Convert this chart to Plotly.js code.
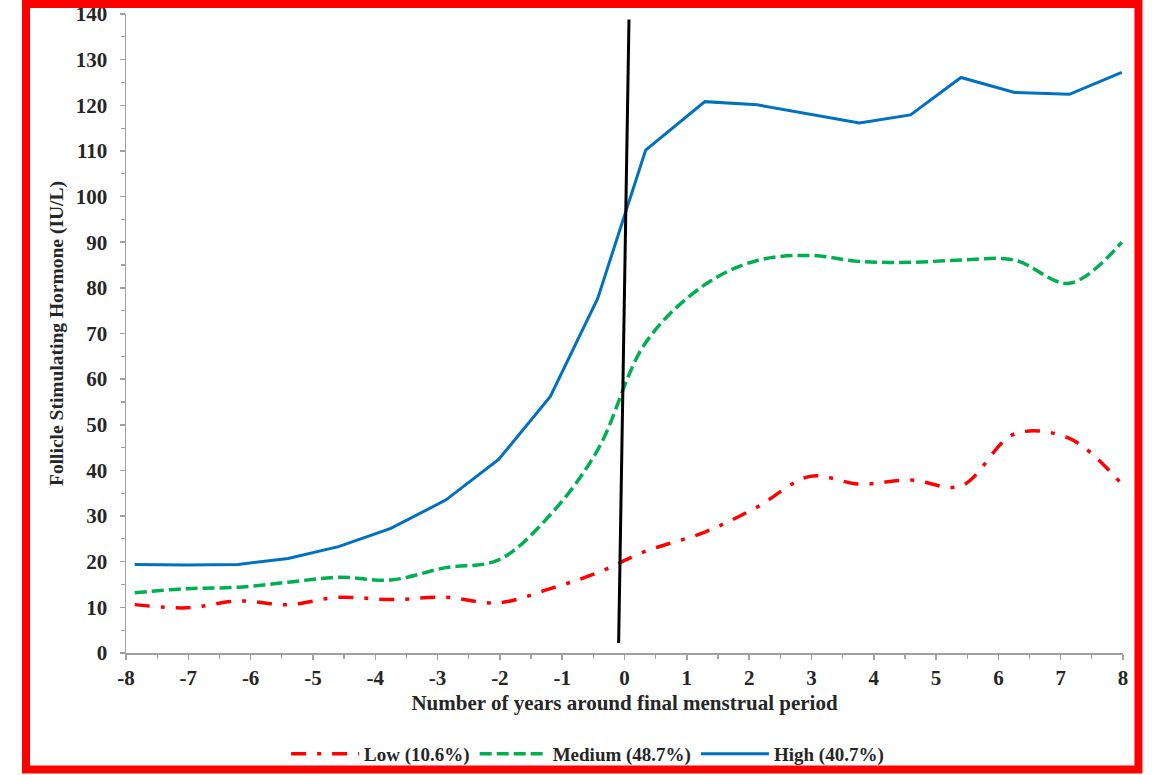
<!DOCTYPE html>
<html>
<head>
<meta charset="utf-8">
<script src="https://cdn.plot.ly/plotly-3.0.1.min.js"></script>
<style>
  html, body { margin: 0; padding: 0; background: #fff; }
  #chart { width: 1153px; height: 775px; }
</style>
</head>
<body>
<div id="chart"></div>
<script>
// Years around final menstrual period (x positions of the plotted points)
const years = [-7.86, -7.02, -6.2, -5.4, -4.59, -3.75, -2.87, -2.02, -1.19, -0.43, 0.34, 1.29, 2.13, 2.98, 3.77, 4.59, 5.40, 6.26, 7.14, 7.98];

// FSH (IU/L) by trajectory group
const lowFSH    = [10.6, 9.9, 11.4, 10.6, 12.2, 11.7, 12.2, 11.0, 14.1, 17.6, 22.3, 26.5, 32.0, 38.7, 37.0, 37.9, 36.6, 48.0, 47.0, 37.0];
const mediumFSH = [13.2, 14.1, 14.4, 15.5, 16.6, 16.0, 18.7, 20.4, 30.3, 44.5, 68.0, 80.7, 86.0, 87.1, 85.8, 85.6, 86.1, 86.1, 81.0, 90.0];
const highFSH   = [19.4, 19.3, 19.4, 20.7, 23.3, 27.3, 33.5, 42.4, 56.2, 77.7, 110.2, 120.8, 120.1, 118.0, 116.1, 117.9, 126.1, 122.8, 122.4, 127.2];

// Marker line at the final menstrual period
const fmpLineX = [-0.094, 0.072];
const fmpLineY = [2.2, 138.8];

// Legend labels
const seriesNames = ['Low (10.6%)', 'Medium (48.7%)', 'High (40.7%)'];

// Axis ticks
const xTickVals = [-8, -7, -6, -5, -4, -3, -2, -1, 0, 1, 2, 3, 4, 5, 6, 7, 8];
const xTickText = ['-8', '-7', '-6', '-5', '-4', '-3', '-2', '-1', '0', '1', '2', '3', '4', '5', '6', '7', '8'];
const yTickVals = [0, 10, 20, 30, 40, 50, 60, 70, 80, 90, 100, 110, 120, 130, 140];

const serif = 'Liberation Serif, DejaVu Serif, serif';
const textColor = '#262626';

const traces = [
  {
    x: years, y: lowFSH, name: seriesNames[0], type: 'scatter', mode: 'lines',
    line: { color: '#FF0000', width: 3.5, dash: '15px,11px,4px,11px', shape: 'spline', smoothing: 1 }
  },
  {
    x: years, y: mediumFSH, name: seriesNames[1], type: 'scatter', mode: 'lines',
    line: { color: '#00B050', width: 3.5, dash: '12px,5px', shape: 'spline', smoothing: 1 }
  },
  {
    x: years, y: highFSH, name: seriesNames[2], type: 'scatter', mode: 'lines',
    line: { color: '#0070C0', width: 3 }
  },
  {
    x: fmpLineX, y: fmpLineY, type: 'scatter', mode: 'lines', showlegend: false, hoverinfo: 'skip',
    line: { color: '#000000', width: 3 }
  }
];

const layout = {
  width: 1153, height: 775,
  margin: { l: 126, r: 30, t: 14, b: 122, autoexpand: false },
  paper_bgcolor: '#ffffff', plot_bgcolor: '#ffffff',
  font: { family: serif, size: 18, color: textColor, weight: 'bold' },
  showlegend: true,
  legend: {
    orientation: 'h', x: 0.463, xanchor: 'center', y: -0.158, yanchor: 'middle',
    bgcolor: 'rgba(0,0,0,0)',
    font: { family: serif, size: 19, color: textColor, weight: 'bold' },
    itemwidth: 68, traceorder: 'normal'
  },
  xaxis: {
    range: [-8, 8], tickmode: 'array', tickvals: xTickVals, ticktext: xTickText,
    showgrid: false, zeroline: false, showline: true, linecolor: '#A0A0A0', linewidth: 1.5,
    ticks: 'outside', ticklen: 5, tickcolor: '#A0A0A0', tickwidth: 1.5, ticklabelstandoff: 0,
    minor: { dtick: 0.5, ticks: 'outside', ticklen: 4, tickcolor: '#A0A0A0', tickwidth: 1.2, showgrid: false },
    tickfont: { family: serif, size: 21, color: textColor, weight: 'bold' },
    title: { text: 'Number of years around final menstrual period', standoff: 6,
             font: { family: serif, size: 21, color: textColor, weight: 'bold' } },
    fixedrange: true
  },
  yaxis: {
    range: [0, 140], tickmode: 'array', tickvals: yTickVals,
    showgrid: false, zeroline: false, showline: true, linecolor: '#A0A0A0', linewidth: 1.5,
    ticks: 'outside', ticklen: 5, tickcolor: '#A0A0A0', tickwidth: 1.5, ticklabelstandoff: 8,
    minor: { dtick: 5, ticks: 'outside', ticklen: 4, tickcolor: '#A0A0A0', tickwidth: 1.2, showgrid: false },
    tickfont: { family: serif, size: 21, color: textColor, weight: 'bold' },
    title: { text: 'Follicle Stimulating Hormone (IU/L)', standoff: 7,
             font: { family: serif, size: 19.5, color: textColor, weight: 'bold' } },
    fixedrange: true
  },
  shapes: [
    {
      type: 'rect', xref: 'paper', yref: 'paper',
      x0: -0.1003, x1: 1.0155, y0: -0.1823, y1: 1.0156,
      line: { color: '#FF0000', width: 8 }, fillcolor: 'rgba(0,0,0,0)', layer: 'above'
    }
  ]
};

Plotly.newPlot('chart', traces, layout, { displayModeBar: false, staticPlot: true });
</script>
</body>
</html>
